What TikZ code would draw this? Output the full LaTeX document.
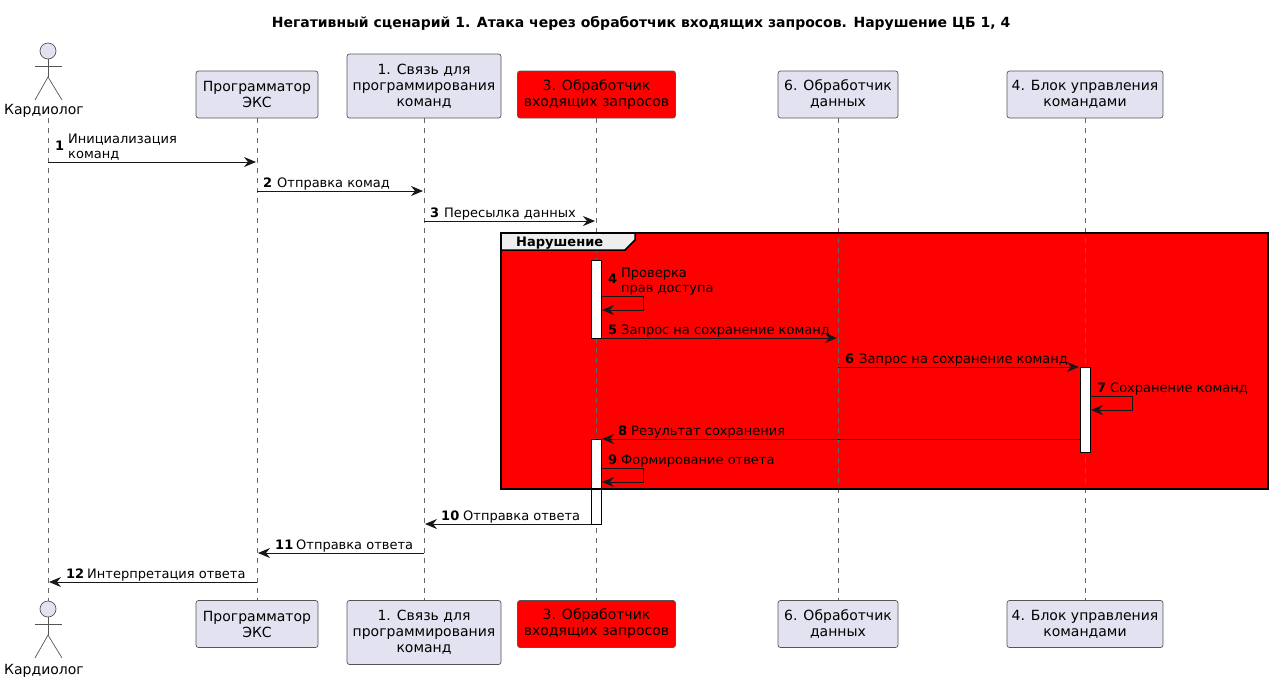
\documentclass[tikz,border=0pt]{standalone}
\usepackage{fontspec}
\setmainfont{DejaVu Sans}
\usepackage{xcolor}
\usetikzlibrary{arrows.meta}
\definecolor{umlBoxFill}{HTML}{E2E2F0}
\definecolor{umlLine}{HTML}{181818}
\definecolor{umlEdge}{HTML}{555555}
\definecolor{umlLife}{HTML}{666666}
\definecolor{umlTab}{HTML}{EEEEEE}
\definecolor{umlBreach}{HTML}{FF0000}
\tikzset{
  partBox/.style={draw=umlEdge, line width=0.7pt, fill=umlBoxFill, rounded corners=2.5pt,
    inner sep=0pt, align=center, font=\fontsize{14}{16}\selectfont},
  actorLine/.style={draw=umlEdge, line width=0.7pt},
  actorName/.style={inner sep=0pt, font=\fontsize{14}{16}\selectfont},
  lifeLine/.style={draw=umlLife, line width=0.7pt, dash pattern=on 5pt off 5pt},
  msgLine/.style={draw=umlLine, line width=1pt, -{Stealth[length=12pt,width=10pt,inset=4pt,umlLine]}},
  msgNum/.style={anchor=base west, inner sep=0pt, font=\fontsize{13}{15}\selectfont\bfseries},
  msgText/.style={anchor=base west, inner sep=0pt, align=left, font=\fontsize{13}{15}\selectfont},
  activeBar/.style={draw=black, line width=1pt, fill=white},
}

\begin{document}
\begin{tikzpicture}[x=1pt, y=-1pt]
\useasboundingbox (0,0) rectangle (1273,681);

% --- PARAMETERS ---
\def\partdata{%
  prog/257/122/47/{Программатор\\ЭКС}/umlBoxFill,%
  link/424/154/64/{1. Связь для\\программирования\\команд}/umlBoxFill,%
  recv/596.5/158/47/{3. Обработчик\\входящих запросов}/umlBreach,%
  data/838/120/47/{6. Обработчик\\данных}/umlBoxFill,%
  ctrl/1085/156/47/{4. Блок управления\\командами}/umlBoxFill%
}
\def\boxB{118}          % lower edge of the top boxes
\def\boxT{600.5}        % upper edge of the bottom boxes

% --- TITLE ---
\node[inner sep=0pt, font=\fontsize{14}{16}\selectfont\bfseries] (title) at (641,23.5)
  {Негативный сценарий 1. Атака через обработчик входящих запросов. Нарушение ЦБ 1, 4};

% --- GROUP FILL ---
\fill[umlBreach] (501,233) rectangle (1268,489);

% --- ACTOR ---
\node[actorName] (kardTop) at (44,111) {Кардиолог};
\node[actorName] (kardBot) at (44,671) {Кардиолог};
\foreach \actName/\headY in {actTop/51,actBot/609} {
  \node[circle, actorLine, fill=umlBoxFill, minimum size=16pt, inner sep=0pt]
    (\actName Head) at (48,\headY) {};
  \coordinate (\actName Hip) at (48,\headY+26);
  \coordinate (\actName Left) at (35,\headY+15);
  \coordinate (\actName Right) at (62,\headY+15);
  \coordinate (\actName FootL) at (35,\headY+49);
  \coordinate (\actName FootR) at (62,\headY+49);
  \draw[actorLine] (\actName Head) -- (\actName Hip);
  \draw[actorLine] (\actName Left) -- (\actName Right);
  \draw[actorLine] (\actName FootL) -- (\actName Hip) -- (\actName FootR);
}
\coordinate (kardLifeA) at (48,118);
\draw[lifeLine] (kardLifeA) -- (actBotHead);

% --- PARTICIPANTS (top and bottom) with lifelines ---
\foreach \k/\x/\w/\h/\t/\c in \partdata {
  \node[partBox, fill=\c, minimum width=\w pt, minimum height=\h pt]
    (\k Top) at (\x,\boxB-\h/2) {\t};
  \node[partBox, fill=\c, minimum width=\w pt, minimum height=\h pt]
    (\k Bot) at (\x,\boxT+\h/2) {\t};
  \draw[lifeLine] (\k Top) -- (\k Bot);
}

% --- ACTIVATION BARS ---
\foreach \b/\xa/\ya/\yb in {barA/591/260/338,barB/1080/367/452,barC/591/439/524} {
  \coordinate (\b NW) at (\xa,\ya);
  \coordinate (\b SE) at (\xa+10,\yb);
  \draw[activeBar] (\b NW) rectangle (\b SE);
}

% --- GROUP FRAME AND TAB ---
\coordinate (frameNW) at (501,233);
\coordinate (frameSE) at (1268,489);
\draw[black, line width=1.5pt] (frameNW) rectangle (frameSE);
\filldraw[fill=umlTab, draw=black, line width=1.5pt]
  (501,233) -- (635,233) -- (635,240) -- (625,250) -- (501,250) -- cycle;
\node[anchor=base west, inner sep=0pt, font=\fontsize{13}{15}\selectfont\bfseries]
  (frameTab) at (516,246) {Нарушение};

% --- STRAIGHT MESSAGES ---
\foreach \i/\xa/\xb/\y/\nx/\tx/\ny/\t in {%
  1/48/256/162/55/68/12/{Инициализация\\команд},%
  2/257/423/191/263/277/4/{Отправка комад},%
  3/424/595/221/430/444/4/{Пересылка данных},%
  5/601/837/338/608/621/4/{Запрос на сохранение команд},%
  6/838/1079/367/845/859/4/{Запрос на сохранение команд},%
  8/1080/602/439/618/631/4/{Результат сохранения},%
  10/591/425/524/441/463/4/{Отправка ответа},%
  11/424/258/553/275/296/4/{Отправка ответа},%
  12/257/49/582/66/87/4/{Интерпретация ответа}%
} {
  \coordinate (msg\i A) at (\xa,\y);
  \coordinate (msg\i B) at (\xb,\y);
  \draw[msgLine] (msg\i A) -- (msg\i B);
  \node[msgNum] (num\i) at (\nx,\y-\ny) {\i};
  \node[msgText] (txt\i) at (\tx,\y-4) {\t};
}

% --- SELF MESSAGES ---
\foreach \i/\xa/\y/\ny/\t in {%
  4/601/296/13/{Проверка\\прав доступа},%
  7/1090/396/4/{Сохранение команд},%
  9/601/468/4/{Формирование ответа}%
} {
  \coordinate (msg\i A) at (\xa,\y);
  \coordinate (msg\i T) at (\xa+42,\y);
  \coordinate (msg\i U) at (\xa+42,\y+14);
  \coordinate (msg\i B) at (\xa+1,\y+14);
  \draw[msgLine] (msg\i A) -- (msg\i T) -- (msg\i U) -- (msg\i B);
  \node[msgNum] (num\i) at (\xa+7,\y-\ny) {\i};
  \node[msgText] (txt\i) at (\xa+20,\y-4) {\t};
}

\end{tikzpicture}
\end{document}
